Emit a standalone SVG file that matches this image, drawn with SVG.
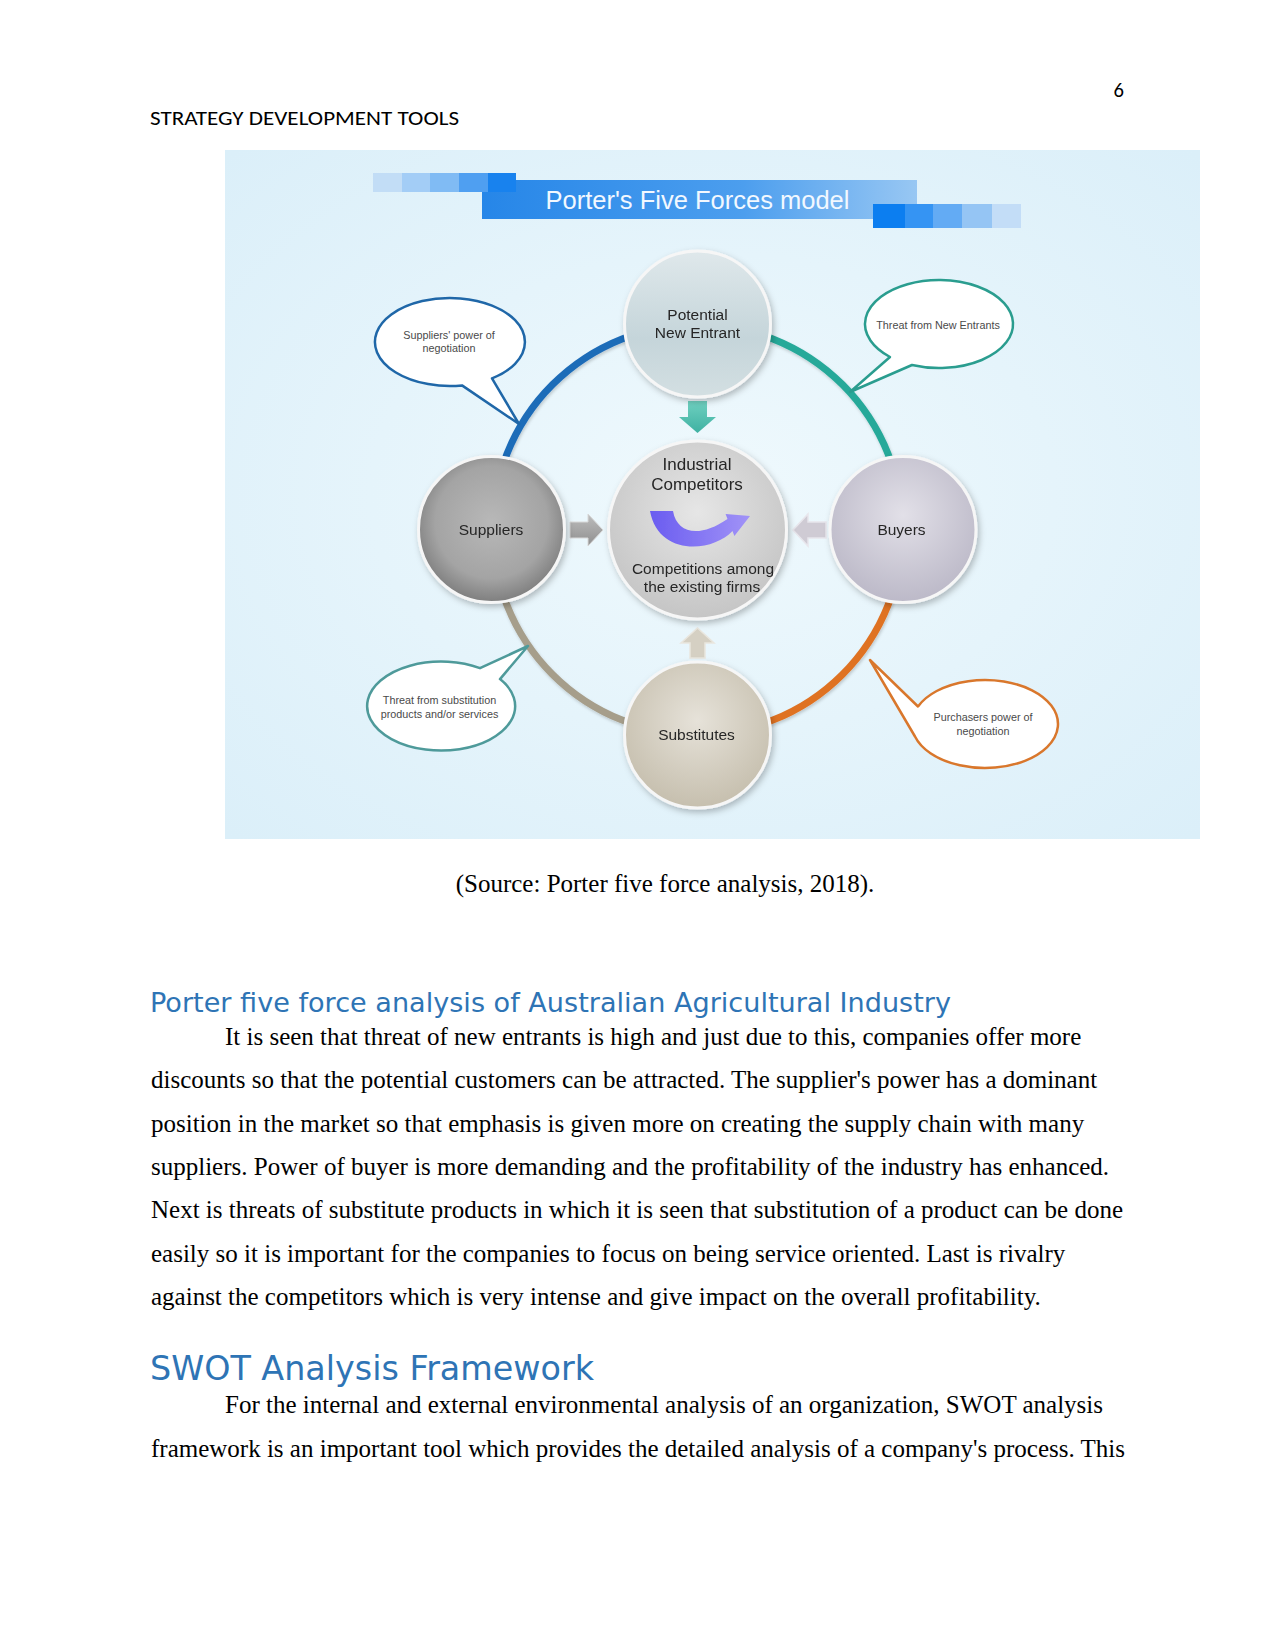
<svg xmlns="http://www.w3.org/2000/svg" width="1275" height="1651" viewBox="0 0 1275 1651">
<style>
.hdr{font-family:Carlito,Lato,"Liberation Sans",sans-serif;font-size:20.6px;fill:#000}
.body{font-family:"Liberation Serif","Times New Roman",serif;font-size:25px;fill:#000}
.h1{font-family:"DejaVu Sans",Verdana,sans-serif;fill:#2e74b5}
.lbl{font-family:"Liberation Sans",Arial,sans-serif;fill:#262626;text-anchor:middle}
.co{font-family:"Liberation Sans",Arial,sans-serif;fill:#4a4a4a;text-anchor:middle;font-size:10.8px}
.node{stroke:#f6f6f6;stroke-width:3}
.arc{fill:none;stroke-width:7}
.bub{fill:#ffffff;stroke-width:2.5;stroke-linejoin:round}
</style>
<defs>
<radialGradient id="bg" cx="50%" cy="50%" r="70%">
<stop offset="0" stop-color="#eff9fd"/><stop offset="1" stop-color="#dbeff9"/>
</radialGradient>
<linearGradient id="bar" x1="0" y1="0" x2="1" y2="0">
<stop offset="0" stop-color="#2686e8"/><stop offset="0.6" stop-color="#4c9eee"/><stop offset="1" stop-color="#98c7f3"/>
</linearGradient>
<linearGradient id="gPot" x1="0" y1="0" x2="0" y2="1">
<stop offset="0" stop-color="#dfe8eb"/><stop offset="0.6" stop-color="#c5d5da"/><stop offset="1" stop-color="#d3dfe2"/>
</linearGradient>
<radialGradient id="gSup" cx="50%" cy="45%" r="55%">
<stop offset="0" stop-color="#b8b8b8"/><stop offset="0.7" stop-color="#a4a4a4"/><stop offset="1" stop-color="#7e7e7e"/>
</radialGradient>
<radialGradient id="gInd" cx="50%" cy="40%" r="60%">
<stop offset="0" stop-color="#e6e6e6"/><stop offset="1" stop-color="#c5c5c5"/>
</radialGradient>
<radialGradient id="gBuy" cx="50%" cy="40%" r="60%">
<stop offset="0" stop-color="#e2e0e8"/><stop offset="1" stop-color="#bcb9c8"/>
</radialGradient>
<radialGradient id="gSub" cx="50%" cy="40%" r="60%">
<stop offset="0" stop-color="#e6e2d9"/><stop offset="1" stop-color="#c6bfae"/>
</radialGradient>
<linearGradient id="gPur" x1="0" y1="0" x2="1" y2="0">
<stop offset="0" stop-color="#6a5cf0"/><stop offset="1" stop-color="#a193f7"/>
</linearGradient>
<linearGradient id="gTeal" x1="0" y1="0" x2="0" y2="1">
<stop offset="0" stop-color="#6fd0c0"/><stop offset="1" stop-color="#3fb1a2"/>
</linearGradient>
<linearGradient id="gGray" x1="0" y1="0" x2="0" y2="1">
<stop offset="0" stop-color="#bdbdbd"/><stop offset="1" stop-color="#8f8f8f"/>
</linearGradient>
<filter id="sh" x="-20%" y="-20%" width="140%" height="140%">
<feDropShadow dx="2" dy="3" stdDeviation="3" flood-color="#000" flood-opacity="0.25"/>
</filter>
<filter id="sh2" x="-20%" y="-20%" width="140%" height="140%">
<feDropShadow dx="1" dy="2" stdDeviation="1.5" flood-color="#000" flood-opacity="0.18"/>
</filter>
</defs>

<rect width="1275" height="1651" fill="#ffffff"/>

<!-- page header -->
<text class="hdr" x="1124" y="97" text-anchor="end">6</text>
<text class="hdr" x="150" y="125" textLength="309" lengthAdjust="spacingAndGlyphs">STRATEGY DEVELOPMENT TOOLS</text>

<!-- diagram background -->
<rect x="225" y="150" width="975" height="689" fill="url(#bg)"/>

<!-- title banner -->
<g id="title">
<rect x="482" y="180" width="435" height="39" fill="url(#bar)"/>
<rect x="373" y="173" width="29" height="19" fill="#c2ddf6"/>
<rect x="402" y="173" width="28" height="19" fill="#a3cdf6"/>
<rect x="430" y="173" width="29" height="19" fill="#80bbf4"/>
<rect x="459" y="173" width="29" height="19" fill="#4f9ff1"/>
<rect x="488" y="173" width="28" height="19" fill="#1882ee"/>
<rect x="873" y="204" width="32" height="24" fill="#0c7ef0"/>
<rect x="905" y="204" width="28" height="24" fill="#3594f3"/>
<rect x="933" y="204" width="29" height="24" fill="#63abf4"/>
<rect x="962" y="204" width="30" height="24" fill="#95c5f4"/>
<rect x="992" y="204" width="29" height="24" fill="#c3ddf7"/>
<text x="697.5" y="209" text-anchor="middle" font-family="'Liberation Sans',Arial,sans-serif" font-size="25.5" fill="#f2f8ff">Porter's Five Forces model</text>
</g>

<!-- connectors -->
<g id="connectors">
<g filter="url(#sh2)">
<path class="arc" stroke="#1e6cb8" d="M492.5,529.5 A205,205 0 0 1 697.5,324.5"/>
<path class="arc" stroke="#27a999" d="M697.5,324.5 A205,205 0 0 1 902.5,529.5"/>
<path class="arc" stroke="#df7222" d="M902.5,529.5 A205,205 0 0 1 697.5,734.5"/>
<path class="arc" stroke="#a69e8b" d="M697.5,734.5 A205,205 0 0 1 492.5,529.5"/>
</g>
<polygon points="688,401 707,401 707,417 716,417 697.5,433 679,417 688,417" fill="url(#gTeal)"/>
<polygon points="570,522 588,522 588,514 603,530 588,546 588,538 570,538" fill="url(#gGray)" stroke="#d8d8d8" stroke-width="1"/>
<polygon points="826,522 808,522 808,514 793,530 808,546 808,538 826,538" fill="#cfcbd4" stroke="#e8e6ec" stroke-width="1.5"/>
<polygon points="690,658 705,658 705,643 714,643 697.5,628 681,643 690,643" fill="#d5d0c3" stroke="#e9e6de" stroke-width="1.5"/>
</g>

<!-- nodes -->
<g id="node-potential" filter="url(#sh)">
<circle class="node" cx="697.5" cy="324" r="73" fill="url(#gPot)"/>
<text class="lbl" x="697.5" y="320" font-size="15.5">Potential</text>
<text class="lbl" x="697.5" y="338" font-size="15.5">New Entrant</text>
</g>
<g id="node-suppliers" filter="url(#sh)">
<circle class="node" cx="491.5" cy="529.5" r="73" fill="url(#gSup)"/>
<text class="lbl" x="491" y="534.5" font-size="15.5">Suppliers</text>
</g>
<g id="node-buyers" filter="url(#sh)">
<circle class="node" cx="903" cy="529.5" r="73" fill="url(#gBuy)"/>
<text class="lbl" x="901.5" y="534.5" font-size="15.5">Buyers</text>
</g>
<g id="node-substitutes" filter="url(#sh)">
<circle class="node" cx="697.5" cy="735" r="73" fill="url(#gSub)"/>
<text class="lbl" x="696.5" y="739.5" font-size="15.5">Substitutes</text>
</g>
<g id="node-industrial" filter="url(#sh)">
<circle class="node" cx="697.5" cy="530" r="89" fill="url(#gInd)"/>
<text class="lbl" x="697" y="470" font-size="17">Industrial</text>
<text class="lbl" x="697" y="490" font-size="17">Competitors</text>
<path d="M650,511 L673,511 C677,534 700,538 727.5,519 L725.6,513.9 L750,516 L734.4,536.1 L732.5,531 C712,553 658,556 650,511 Z" fill="url(#gPur)"/>
<text class="lbl" x="703" y="574" font-size="15.5">Competitions among</text>
<text class="lbl" x="702" y="592" font-size="15.5">the existing firms</text>
</g>

<!-- callouts -->
<g id="callout-suppliers">
<path class="bub" stroke="#1f67a8" d="M492,378.4 A75,44 0 1 0 462,385.4 L519,424 Z"/>
<text class="co" x="449" y="338.5">Suppliers' power of</text>
<text class="co" x="449" y="352">negotiation</text>
</g>
<g id="callout-new-entrants">
<path class="bub" stroke="#2a9d8f" d="M912,365 A74,44 0 1 0 890,357 L850,392 Z"/>
<text class="co" x="938" y="329" font-size="10.7">Threat from New Entrants</text>
</g>
<g id="callout-substitution">
<path class="bub" stroke="#4e9a9a" d="M480,668.2 A74,44.5 0 1 0 500,679.1 L528,646 Z"/>
<text class="co" x="439.5" y="704">Threat from substitution</text>
<text class="co" x="439.5" y="717.5">products and/or services</text>
</g>
<g id="callout-purchasers">
<path class="bub" stroke="#d9772c" d="M918,706.5 A73,44 0 1 1 915,736.5 L870,660 Z"/>
<text class="co" x="983" y="721">Purchasers power of</text>
<text class="co" x="983" y="735">negotiation</text>
</g>

<!-- caption and text -->
<text class="body" x="665" y="892" text-anchor="middle">(Source: Porter five force analysis, 2018).</text>

<text class="h1" x="150" y="1012" font-size="27" textLength="801" lengthAdjust="spacingAndGlyphs">Porter five force analysis of Australian Agricultural Industry</text>
<text class="body" x="225" y="1045">It is seen that threat of new entrants is high and just due to this, companies offer more</text>
<text class="body" x="151" y="1088.3">discounts so that the potential customers can be attracted. The supplier's power has a dominant</text>
<text class="body" x="151" y="1131.7">position in the market so that emphasis is given more on creating the supply chain with many</text>
<text class="body" x="151" y="1175">suppliers. Power of buyer is more demanding and the profitability of the industry has enhanced.</text>
<text class="body" x="151" y="1218.3">Next is threats of substitute products in which it is seen that substitution of a product can be done</text>
<text class="body" x="151" y="1261.7">easily so it is important for the companies to focus on being service oriented. Last is rivalry</text>
<text class="body" x="151" y="1305">against the competitors which is very intense and give impact on the overall profitability.</text>

<text class="h1" x="150" y="1380" font-size="33.4" textLength="444" lengthAdjust="spacingAndGlyphs">SWOT Analysis Framework</text>
<text class="body" x="225" y="1413">For the internal and external environmental analysis of an organization, SWOT analysis</text>
<text class="body" x="151" y="1457">framework is an important tool which provides the detailed analysis of a company's process. This</text>
</svg>
